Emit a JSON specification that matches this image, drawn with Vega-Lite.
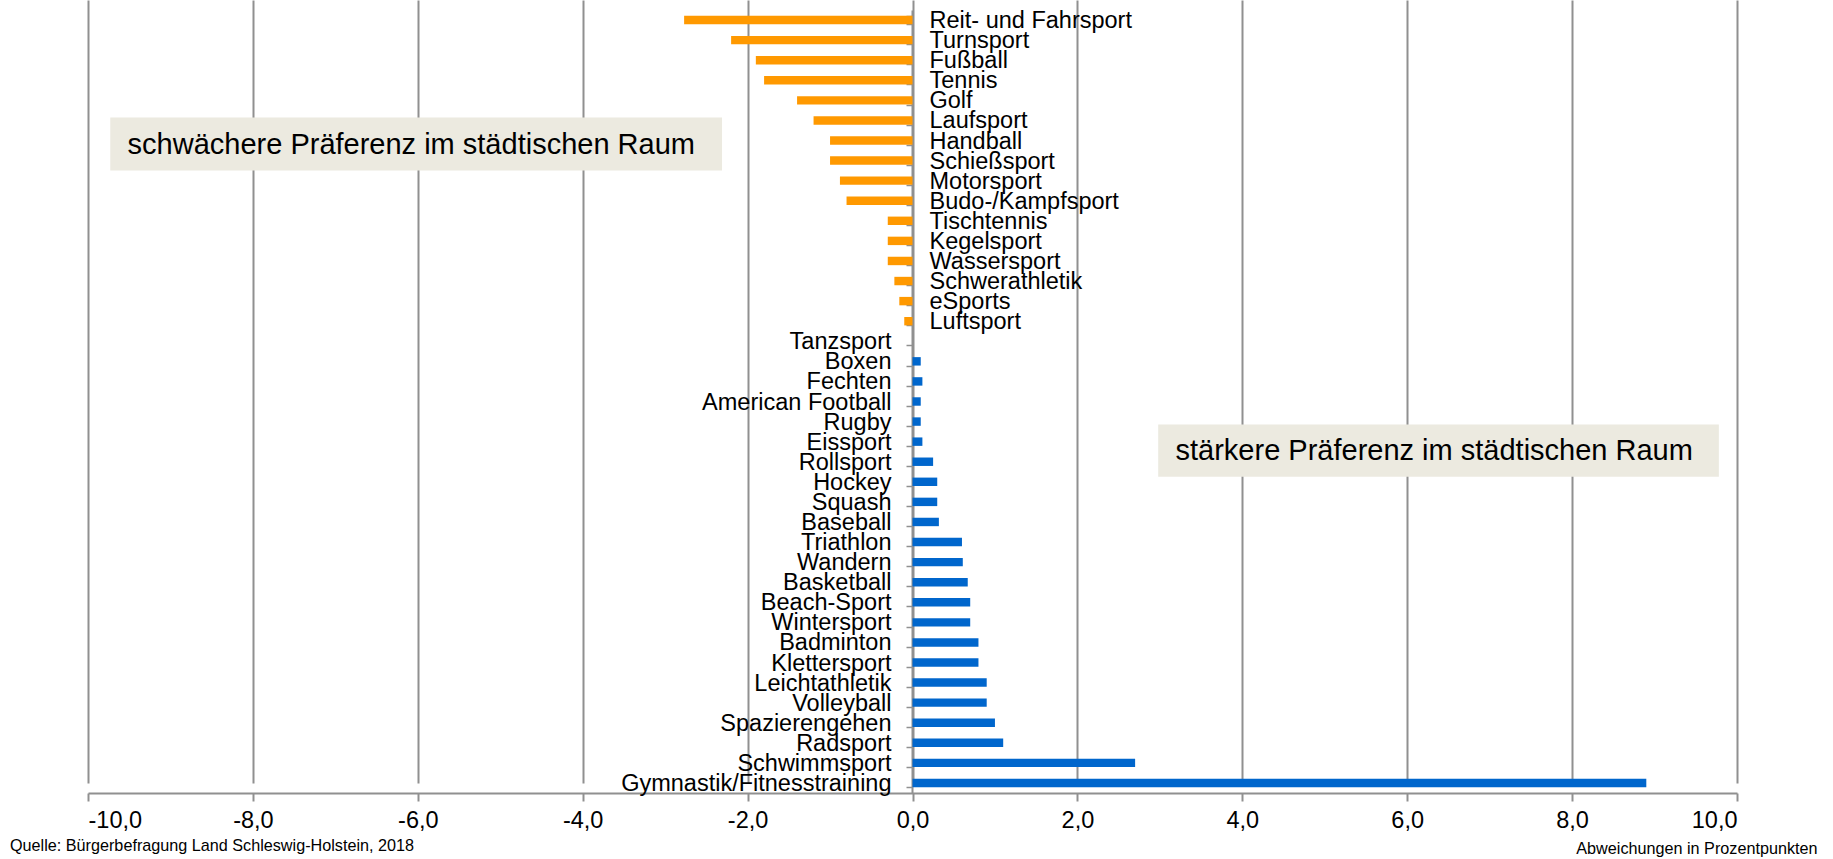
{
  "$schema": "https://vega.github.io/schema/vega-lite/v6.json",
  "width": 1649,
  "height": 793,
  "autosize": {"type": "none"},
  "padding": {"left": 88, "top": 0, "right": 96, "bottom": 66},
  "background": "white",
  "config": {
    "font": "Liberation Sans",
    "view": {"stroke": null},
    "axis": {"grid": false}
  },
  "title": {
    "text": "Quelle: Bürgerbefragung Land Schleswig-Holstein, 2018",
    "orient": "bottom",
    "anchor": "start",
    "frame": "group",
    "fontSize": 16.2,
    "fontWeight": "normal",
    "color": "#000000",
    "dx": -78,
    "offset": 0,
    "dy": -18
  },
  "datasets": {
    "sport": [
      {"sportart": "Reit- und Fahrsport", "wert": -2.77},
      {"sportart": "Turnsport", "wert": -2.2},
      {"sportart": "Fußball", "wert": -1.9},
      {"sportart": "Tennis", "wert": -1.8},
      {"sportart": "Golf", "wert": -1.4},
      {"sportart": "Laufsport", "wert": -1.2},
      {"sportart": "Handball", "wert": -1.0},
      {"sportart": "Schießsport", "wert": -1.0},
      {"sportart": "Motorsport", "wert": -0.88},
      {"sportart": "Budo-/Kampfsport", "wert": -0.8},
      {"sportart": "Tischtennis", "wert": -0.3},
      {"sportart": "Kegelsport", "wert": -0.3},
      {"sportart": "Wassersport", "wert": -0.3},
      {"sportart": "Schwerathletik", "wert": -0.22},
      {"sportart": "eSports", "wert": -0.16},
      {"sportart": "Luftsport", "wert": -0.1},
      {"sportart": "Tanzsport", "wert": 0},
      {"sportart": "Boxen", "wert": 0.1},
      {"sportart": "Fechten", "wert": 0.12},
      {"sportart": "American Football", "wert": 0.1},
      {"sportart": "Rugby", "wert": 0.1},
      {"sportart": "Eissport", "wert": 0.12},
      {"sportart": "Rollsport", "wert": 0.25},
      {"sportart": "Hockey", "wert": 0.3},
      {"sportart": "Squash", "wert": 0.3},
      {"sportart": "Baseball", "wert": 0.32},
      {"sportart": "Triathlon", "wert": 0.6},
      {"sportart": "Wandern", "wert": 0.61},
      {"sportart": "Basketball", "wert": 0.67},
      {"sportart": "Beach-Sport", "wert": 0.7},
      {"sportart": "Wintersport", "wert": 0.7},
      {"sportart": "Badminton", "wert": 0.8},
      {"sportart": "Klettersport", "wert": 0.8},
      {"sportart": "Leichtathletik", "wert": 0.9},
      {"sportart": "Volleyball", "wert": 0.9},
      {"sportart": "Spazierengehen", "wert": 1.0},
      {"sportart": "Radsport", "wert": 1.1},
      {"sportart": "Schwimmsport", "wert": 2.7},
      {"sportart": "Gymnastik/Fitnesstraining", "wert": 8.9}
    ],
    "boxes": [
      {"label": "schwächere Präferenz im städtischen Raum", "x1": -9.73, "x2": -2.31, "y1": 5.36, "y2": 8.0, "tx": -9.52, "ty": 6.72},
      {"label": "stärkere Präferenz im städtischen Raum", "x1": 2.98, "x2": 9.78, "y1": 20.64, "y2": 23.25, "tx": 3.19, "ty": 21.96}
    ]
  },
  "layer": [
    {
      "data": {"name": "sport"},
      "encoding": {
        "y": {
          "field": "sportart",
          "type": "nominal",
          "sort": null,
          "scale": {"range": [10, 793], "paddingInner": 0.58, "paddingOuter": 0.29},
          "axis": {
            "offset": -824,
            "labels": false,
            "title": null,
            "domainColor": "#909090",
            "domainWidth": 2,
            "tickColor": "#909090",
            "tickWidth": 1.5,
            "tickSize": 6,
            "tickBand": "extent",
            "grid": false
          }
        },
        "x": {
          "field": "wert",
          "type": "quantitative",
          "scale": {"domain": [-10, 10], "nice": false, "zero": false},
          "axis": {
            "values": [-10, -8, -6, -4, -2, 0, 2, 4, 6, 8, 10],
            "labelExpr": "replace(replace(format(datum.value, '.1f'), '.', ','), '\u2212', '-')",
            "grid": true,
            "gridColor": "#909090",
            "gridWidth": 2,
            "domainColor": "#909090",
            "domainWidth": 2,
            "tickColor": "#909090",
            "tickWidth": 2,
            "tickSize": 8,
            "labelFontSize": 23.5,
            "labelColor": "#000000",
            "labelPadding": 7,
            "title": "Abweichungen in Prozentpunkten",
            "titleFontSize": 16.2,
            "titleFontWeight": "normal",
            "titleColor": "#000000",
            "titleAnchor": "end",
            "titleAlign": "right",
            "titleBaseline": "middle",
            "titleX": 1729,
            "titleY": 55
          }
        }
      },
      "layer": [
        {
          "mark": {"type": "bar"},
          "encoding": {
            "color": {
              "condition": {"test": "datum.wert < 0", "value": "#FF9900"},
              "value": "#0066CC"
            }
          }
        },
        {
          "transform": [{"filter": "datum.wert < 0"}],
          "mark": {"type": "text", "align": "left", "baseline": "middle", "dx": 17, "dy": 1, "fontSize": 23.5, "color": "#000000"},
          "encoding": {
            "x": {"datum": 0, "type": "quantitative"},
            "text": {"field": "sportart"}
          }
        },
        {
          "transform": [{"filter": "datum.wert >= 0"}],
          "mark": {"type": "text", "align": "right", "baseline": "middle", "dx": -21, "dy": 1, "fontSize": 23.5, "color": "#000000"},
          "encoding": {
            "x": {"datum": 0, "type": "quantitative"},
            "text": {"field": "sportart"}
          }
        }
      ]
    },
    {
      "data": {"name": "boxes"},
      "layer": [
        {
          "mark": {"type": "rect", "color": "#ECEAE0"},
          "encoding": {
            "x": {"field": "x1", "type": "quantitative", "scale": {"domain": [-10, 10], "nice": false, "zero": false}},
            "x2": {"field": "x2"},
            "y": {"field": "y1", "type": "quantitative", "scale": {"domain": [0, 39], "range": [10, 793], "nice": false, "zero": false}, "axis": null},
            "y2": {"field": "y2"}
          }
        },
        {
          "mark": {"type": "text", "align": "left", "baseline": "middle", "fontSize": 29, "color": "#000000"},
          "encoding": {
            "x": {"field": "tx", "type": "quantitative"},
            "y": {"field": "ty", "type": "quantitative", "scale": {"domain": [0, 39], "range": [10, 793], "nice": false, "zero": false}, "axis": null},
            "text": {"field": "label"}
          }
        }
      ]
    }
  ],
  "resolve": {"scale": {"y": "independent"}}
}
